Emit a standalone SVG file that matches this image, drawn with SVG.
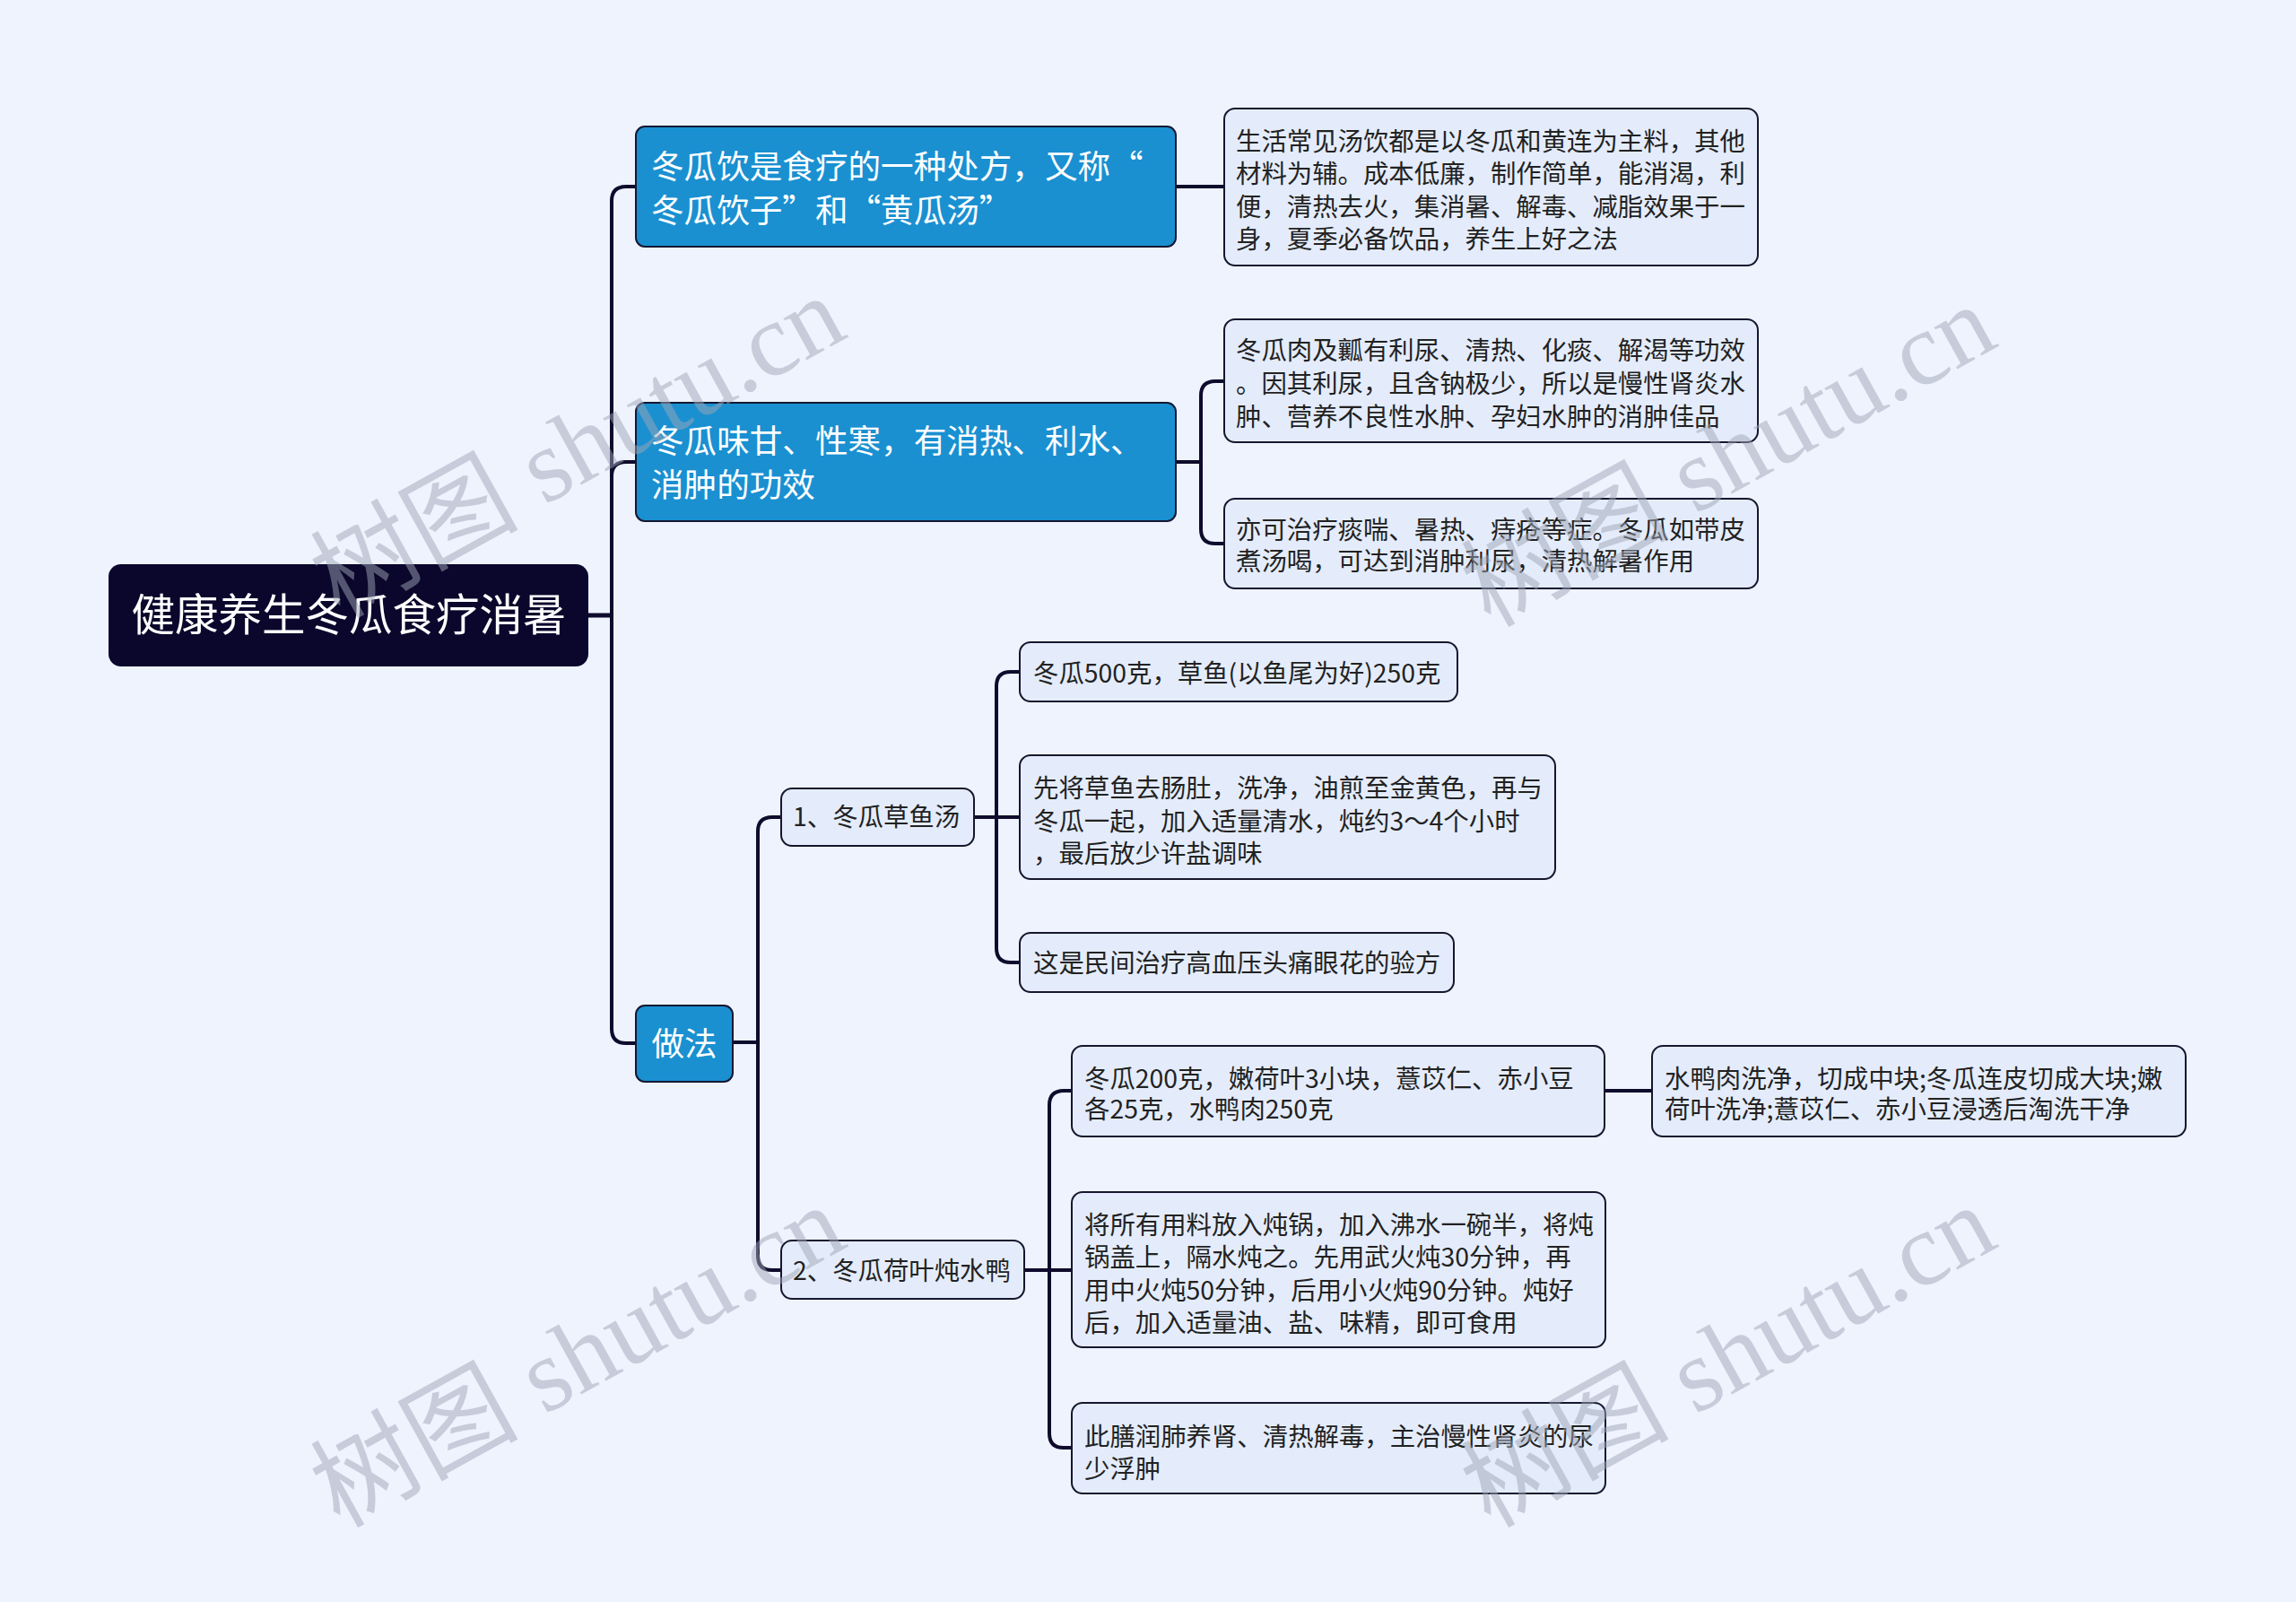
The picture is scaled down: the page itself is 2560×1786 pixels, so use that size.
<svg xmlns="http://www.w3.org/2000/svg" width="2560" height="1786" viewBox="0 0 2560 1786">
<style>
.bg{fill:#eef3fe}
.root{fill:#0b062c}
.l1{fill:#1a90d1;stroke:#141833;stroke-width:2}
.l2{fill:#e4ecfb;stroke:#16162e;stroke-width:2}
.c{fill:none;stroke:#0e0b2c;stroke-width:4;stroke-linecap:round;stroke-linejoin:round}
.c0{fill:none;stroke:#0e0b2c;stroke-width:5}
text{font-family:"Noto Sans CJK SC","Noto Sans",sans-serif}
.tr{font-size:48.5px;fill:#ffffff}
.t1{font-size:36.6px;fill:#ffffff}
.t2{font-size:28.4px;fill:#222222}
.wm{font-family:"Liberation Serif","Noto Sans CJK SC",serif;font-size:116px;fill:#9ea5b5;fill-opacity:0.5}
</style>
<rect class="bg" x="0" y="0" width="2560" height="1786"/>

<g id="connectors">
  <path class="c0" d="M656 686 H682"/>
  <path class="c" d="M682 686 V224 Q682 208 698 208 H709"/>
  <path class="c" d="M682 686 V531 Q682 515 698 515 H709"/>
  <path class="c" d="M682 686 V1147 Q682 1163 698 1163 H709"/>
  <path class="c" d="M1311 208 H1365"/>
  <path class="c" d="M1311 515 H1339"/>
  <path class="c" d="M1339 515 V441 Q1339 425 1355 425 H1365"/>
  <path class="c" d="M1339 515 V590 Q1339 606 1355 606 H1365"/>
  <path class="c" d="M817 1162 H845"/>
  <path class="c" d="M845 1162 V927 Q845 911 861 911 H871"/>
  <path class="c" d="M845 1162 V1400 Q845 1416 861 1416 H871"/>
  <path class="c" d="M1086 911 H1111"/>
  <path class="c" d="M1111 911 V765 Q1111 749 1127 749 H1137"/>
  <path class="c" d="M1111 911 H1137"/>
  <path class="c" d="M1111 911 V1057 Q1111 1073 1127 1073 H1137"/>
  <path class="c" d="M1142 1416 H1170"/>
  <path class="c" d="M1170 1416 V1232 Q1170 1216 1186 1216 H1195"/>
  <path class="c" d="M1170 1416 H1195"/>
  <path class="c" d="M1170 1416 V1598 Q1170 1614 1186 1614 H1195"/>
  <path class="c" d="M1789 1216 H1842"/>
</g>

<g id="root">
  <rect class="root" x="121" y="629" width="535" height="114" rx="14"/>
  <text class="tr" x="389" y="703" text-anchor="middle">健康养生冬瓜食疗消暑</text>
</g>

<g id="n1">
  <rect class="l1" x="709" y="141" width="602" height="134" rx="10"/>
  <text class="t1" x="726" y="199">冬瓜饮是食疗的一种处方，又称“</text>
  <text class="t1" x="726" y="248">冬瓜饮子”和“黄瓜汤”</text>
</g>

<g id="n1a">
  <rect class="l2" x="1365" y="121" width="595" height="175" rx="12"/>
  <text class="t2" x="1378" y="168">生活常见汤饮都是以冬瓜和黄连为主料，其他</text>
  <text class="t2" x="1378" y="204">材料为辅。成本低廉，制作简单，能消渴，利</text>
  <text class="t2" x="1378" y="241">便，清热去火，集消暑、解毒、减脂效果于一</text>
  <text class="t2" x="1378" y="277">身，夏季必备饮品，养生上好之法</text>
</g>

<g id="n2">
  <rect class="l1" x="709" y="449" width="602" height="132" rx="10"/>
  <text class="t1" x="726" y="505">冬瓜味甘、性寒，有消热、利水、</text>
  <text class="t1" x="726" y="554">消肿的功效</text>
</g>

<g id="n2a">
  <rect class="l2" x="1365" y="356" width="595" height="137" rx="12"/>
  <text class="t2" x="1378" y="401">冬瓜肉及瓤有利尿、清热、化痰、解渴等功效</text>
  <text class="t2" x="1378" y="438">。因其利尿，且含钠极少，所以是慢性肾炎水</text>
  <text class="t2" x="1378" y="475">肿、营养不良性水肿、孕妇水肿的消肿佳品</text>
</g>

<g id="n2b">
  <rect class="l2" x="1365" y="556" width="595" height="100" rx="12"/>
  <text class="t2" x="1378" y="601">亦可治疗痰喘、暑热、痔疮等症。冬瓜如带皮</text>
  <text class="t2" x="1378" y="636">煮汤喝，可达到消肿利尿，清热解暑作用</text>
</g>

<g id="n3">
  <rect class="l1" x="709" y="1121" width="108" height="85" rx="10"/>
  <text class="t1" x="763" y="1177" text-anchor="middle">做法</text>
</g>

<g id="n3a">
  <rect class="l2" x="871" y="879" width="215" height="64" rx="12"/>
  <text class="t2" x="884" y="921">1、冬瓜草鱼汤</text>
</g>

<g id="n3a1">
  <rect class="l2" x="1137" y="716" width="488" height="66" rx="12"/>
  <text class="t2" x="1152" y="761">冬瓜500克，草鱼(以鱼尾为好)250克</text>
</g>

<g id="n3a2">
  <rect class="l2" x="1137" y="842" width="597" height="138" rx="12"/>
  <text class="t2" x="1152" y="889">先将草鱼去肠肚，洗净，油煎至金黄色，再与</text>
  <text class="t2" x="1152" y="926">冬瓜一起，加入适量清水，炖约3～4个小时</text>
  <text class="t2" x="1152" y="962">，最后放少许盐调味</text>
</g>

<g id="n3a3">
  <rect class="l2" x="1137" y="1040" width="484" height="66" rx="12"/>
  <text class="t2" x="1152" y="1084">这是民间治疗高血压头痛眼花的验方</text>
</g>

<g id="n3b">
  <rect class="l2" x="871" y="1383" width="271" height="65" rx="12"/>
  <text class="t2" x="884" y="1427">2、冬瓜荷叶炖水鸭</text>
</g>

<g id="n3b1">
  <rect class="l2" x="1195" y="1166" width="594" height="101" rx="12"/>
  <text class="t2" x="1209" y="1213">冬瓜200克，嫩荷叶3小块，薏苡仁、赤小豆</text>
  <text class="t2" x="1209" y="1247">各25克，水鸭肉250克</text>
</g>

<g id="n3b1a">
  <rect class="l2" x="1842" y="1166" width="595" height="101" rx="12"/>
  <text class="t2" x="1856" y="1213">水鸭肉洗净，切成中块;冬瓜连皮切成大块;嫩</text>
  <text class="t2" x="1856" y="1247">荷叶洗净;薏苡仁、赤小豆浸透后淘洗干净</text>
</g>

<g id="n3b2">
  <rect class="l2" x="1195" y="1329" width="595" height="173" rx="12"/>
  <text class="t2" x="1209" y="1376">将所有用料放入炖锅，加入沸水一碗半，将炖</text>
  <text class="t2" x="1209" y="1412">锅盖上，隔水炖之。先用武火炖30分钟，再</text>
  <text class="t2" x="1209" y="1449">用中火炖50分钟，后用小火炖90分钟。炖好</text>
  <text class="t2" x="1209" y="1485">后，加入适量油、盐、味精，即可食用</text>
</g>

<g id="n3b3">
  <rect class="l2" x="1195" y="1564" width="595" height="101" rx="12"/>
  <text class="t2" x="1209" y="1612">此膳润肺养肾、清热解毒，主治慢性肾炎的尿</text>
  <text class="t2" x="1209" y="1648">少浮肿</text>
</g>

<g id="watermarks">
  <text class="wm" x="645" y="500" dy="0.32em" text-anchor="middle" transform="rotate(-29 645 500)">树图 shutu.cn</text>
  <text class="wm" x="1928" y="510" dy="0.32em" text-anchor="middle" transform="rotate(-29 1928 510)">树图 shutu.cn</text>
  <text class="wm" x="645" y="1514" dy="0.32em" text-anchor="middle" transform="rotate(-29 645 1514)">树图 shutu.cn</text>
  <text class="wm" x="1928" y="1514" dy="0.32em" text-anchor="middle" transform="rotate(-29 1928 1514)">树图 shutu.cn</text>
</g>
</svg>
